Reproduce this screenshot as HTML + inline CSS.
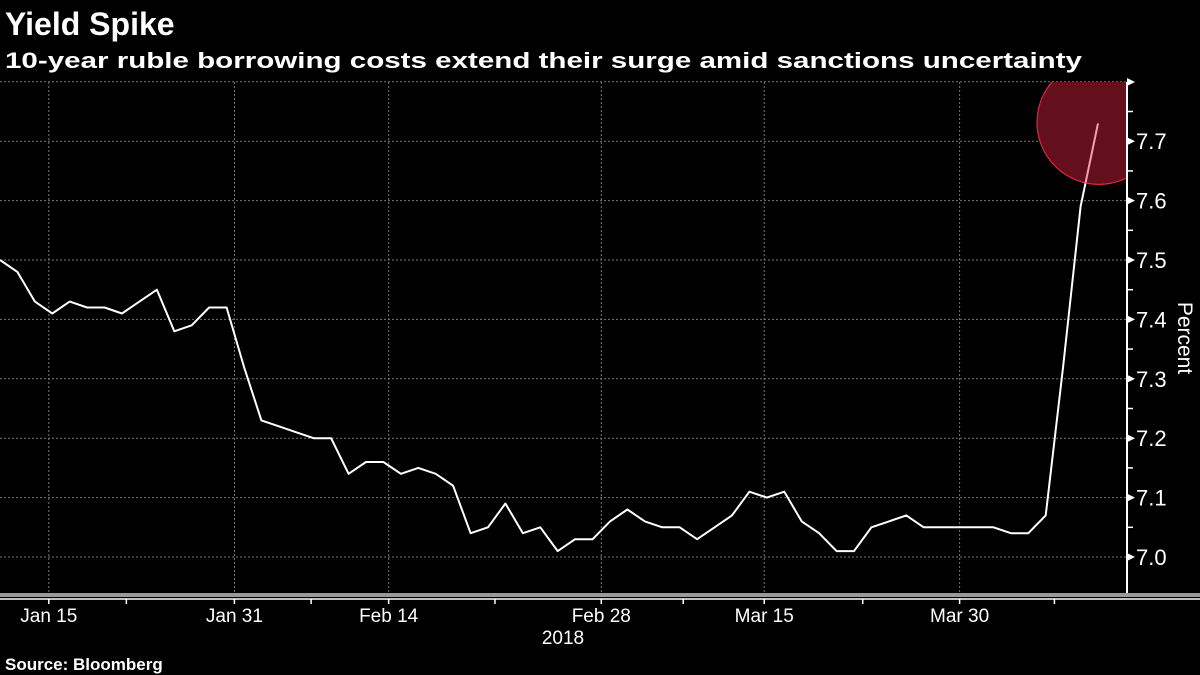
<!DOCTYPE html>
<html><head><meta charset="utf-8"><style>
html,body{margin:0;padding:0;background:#000;width:1200px;height:675px;overflow:hidden}
svg{display:block;font-family:"Liberation Sans",sans-serif}
</style></head><body>
<svg id="chart" width="1200" height="675" viewBox="0 0 1200 675">
<text x="5" y="35" font-size="32" font-weight="bold" fill="#fff">Yield Spike</text>
<text x="5" y="68" font-size="22" font-weight="bold" fill="#fff" textLength="1077" lengthAdjust="spacingAndGlyphs">10-year ruble borrowing costs extend their surge amid sanctions uncertainty</text>
<g id="grid"></g>
<g id="series"></g>
<g id="axes"></g>
<text transform="translate(1178,338) rotate(90)" text-anchor="middle" font-size="21" fill="#fff">Percent</text>
<text x="563" y="644" text-anchor="middle" font-size="19" fill="#fff">2018</text>
<text x="5" y="670" font-size="17" font-weight="bold" fill="#fff">Source: Bloomberg</text>
</svg>
<script>
const yields=[7.50,7.48,7.43,7.41,7.43,7.42,7.42,7.41,7.43,7.45,7.38,7.39,7.42,7.42,7.32,7.23,7.22,7.21,7.20,7.20,7.14,7.16,7.16,7.14,7.15,7.14,7.12,7.04,7.05,7.09,7.04,7.05,7.01,7.03,7.03,7.06,7.08,7.06,7.05,7.05,7.03,7.05,7.07,7.11,7.10,7.11,7.06,7.04,7.01,7.01,7.05,7.06,7.07,7.05,7.05,7.05,7.05,7.05,7.04,7.04,7.07,7.32,7.59,7.73];
const yTicks=[7.0,7.1,7.2,7.3,7.4,7.5,7.6,7.7];
const xTickLabels=["Jan 15","Jan 31","Feb 14","Feb 28","Mar 15","Mar 30"];
const xTickIdx=[2.8,13.45,22.3,34.5,43.85,55.06];
const xMinorIdx=[7.25,17.85,28.4,39.2,49.5,60.5];
const NS="http://www.w3.org/2000/svg";
const X0=0,X1=1098,AX=1127;
function xs(i){return X0+i*(X1-X0)/(yields.length-1);}
function ys(v){return 557-(v-7.0)*594;}
function mk(tag,attrs,parent){const e=document.createElementNS(NS,tag);for(const k in attrs)e.setAttribute(k,attrs[k]);parent.appendChild(e);return e;}
const grid=document.getElementById('grid'),axes=document.getElementById('axes'),series=document.getElementById('series');
for(const t of yTicks.concat([7.8])){
 const l=mk('line',{x1:0,x2:AX,y1:ys(t),y2:ys(t),stroke:'#777','stroke-dasharray':'2,2','stroke-width':1},grid);
 
 
}
for(const i of xTickIdx){
 const l=mk('line',{x1:xs(i),x2:xs(i),y1:82,y2:594,stroke:'#777','stroke-dasharray':'2,2','stroke-width':1},grid);
 
 
}
mk('line',{x1:AX,x2:AX,y1:82,y2:596,stroke:'#fff','stroke-width':2},axes);
for(const t of yTicks){
 const y=ys(t);
 mk('polygon',{points:`${AX},${y-4} ${AX+8},${y} ${AX},${y+4}`,fill:'#fff'},axes);
 const tx=mk('text',{x:AX+9,y:y+8,'font-size':22,fill:'#fff'},axes);
 tx.textContent=t.toFixed(1);
 
 
 mk('line',{x1:AX,x2:AX+6,y1:y-29.7,y2:y-29.7,stroke:'#fff','stroke-width':1.5},axes);
}
mk('polygon',{points:`${AX},78 ${AX+8},82 ${AX},86`,fill:'#fff'},axes);
mk('rect',{x:0,y:593,width:1200,height:4,fill:'#999'},axes);
mk('line',{x1:0,x2:1200,y1:599,y2:599,stroke:'#fff','stroke-width':1.5},axes);
xTickIdx.forEach((i,k)=>{
 const x=xs(i);
 mk('line',{x1:x,x2:x,y1:599,y2:604,stroke:'#fff','stroke-width':1.5},axes);
 const tx=mk('text',{x:x,y:622,'text-anchor':'middle','font-size':19,fill:'#fff'},axes);
 tx.textContent=xTickLabels[k];
 
 
});
for(const i of xMinorIdx){const x=xs(i);mk('line',{x1:x,x2:x,y1:599,y2:604,stroke:'#fff','stroke-width':1.5},axes);}
const defs=mk('defs',{},series);
const pc=mk('clipPath',{id:'plotclip'},defs);
mk('rect',{x:0,y:82,width:AX,height:512},pc);
const pts=yields.map((v,i)=>xs(i).toFixed(1)+','+ys(v).toFixed(1)).join(' ');
const line=mk('polyline',{points:pts,fill:'none',stroke:'#fff','stroke-width':2,'stroke-linejoin':'round'},series);


const last=yields.length-1,cx=xs(last)+1,cy=ys(yields[last])-1;
const circ=mk('circle',{cx:cx,cy:cy,r:62,fill:'#640f1c',stroke:'#e8203a','stroke-width':1.2,'clip-path':'url(#plotclip)'},series);


const cp=mk('clipPath',{id:'cc'},defs);
mk('circle',{cx:cx,cy:cy,r:62},cp);
const pl=mk('polyline',{points:pts,fill:'none',stroke:'#f4a0b0','stroke-width':2,'clip-path':'url(#cc)'},series);


</script>
</body></html>
